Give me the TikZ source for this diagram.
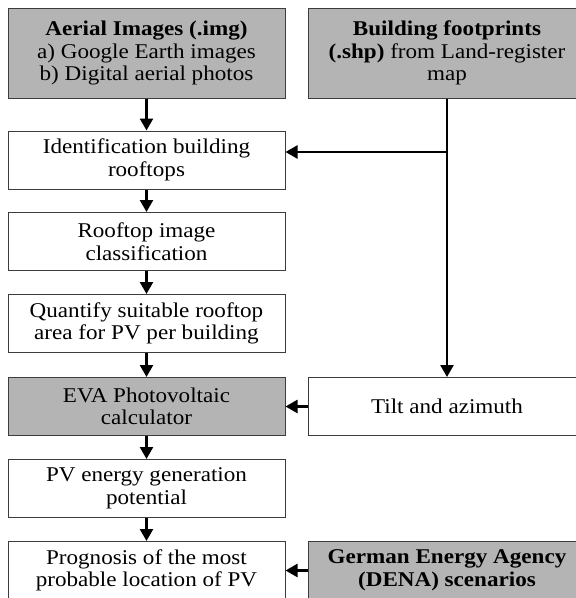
\documentclass[tikz,border=0pt]{standalone}
\usepackage{fontspec}
\setmainfont{Liberation Serif}[FakeStretch=1.1]
\usetikzlibrary{arrows.meta}
\definecolor{boxgray}{RGB}{180,180,180}
\definecolor{edgegray}{RGB}{60,60,60}

\begin{document}
\begin{tikzpicture}[x=1pt, y=-1pt,
	stage/.style={draw=edgegray, line width=1pt, minimum width=277pt, minimum height=58pt,
		align=center, inner sep=2pt, font=\fontsize{21}{22.5}\selectfont},
	source/.style={stage, fill=boxgray},
	flow/.style={line width=2.4pt, -{Triangle[length=12pt,width=13pt]}}]
	\useasboundingbox (0,0) rectangle (576,598);
	\clip (0,0) rectangle (576,598);
	% inputs
	\node[source, minimum height=90pt] (aerial) at (146.5,53) {\textbf{Aerial Images (.img)}\\a) Google Earth images\\b) Digital aerial photos};
	\node[source, minimum height=90pt] (footprint) at (447,53) {\textbf{Building footprints}\\\textbf{(.shp)} from Land-register\\map};
	% left column
	\node[stage] (ident) at (146.5,160) {Identification building\\rooftops};
	\node[stage] (classify) at (146.5,241.5) {Rooftop image\\classification};
	\node[stage] (area) at (146.5,323.5) {Quantify suitable rooftop\\area for PV per building};
	\node[source] (eva) at (146.5,406.5) {EVA Photovoltaic\\calculator};
	\node[stage] (potential) at (146.5,488.5) {PV energy generation\\potential};
	\node[stage] (prognosis) at (146.5,570.5) {Prognosis of the most\\probable location of PV};
	% right column
	\node[stage] (tilt) at (447,406.5) {Tilt and azimuth};
	\node[source] (dena) at (447,570.5) {\textbf{German Energy Agency}\\\textbf{(DENA) scenarios}};
	
	\draw[flow] (aerial) -- (ident);
	\draw[flow] (ident) -- (classify);
	\draw[flow] (classify) -- (area);
	\draw[flow] (area) -- (eva);
	\draw[flow] (eva) -- (potential);
	\draw[flow] (potential) -- (prognosis);
	
	\coordinate (split) at (447,152);
	\draw[flow] (footprint.south) -- (tilt.north);
	\draw[flow] (split) -- (split -| ident.east);
	\draw[flow] (tilt) -- (eva);
	\draw[flow] (dena) -- (prognosis);
\end{tikzpicture}
\end{document}
